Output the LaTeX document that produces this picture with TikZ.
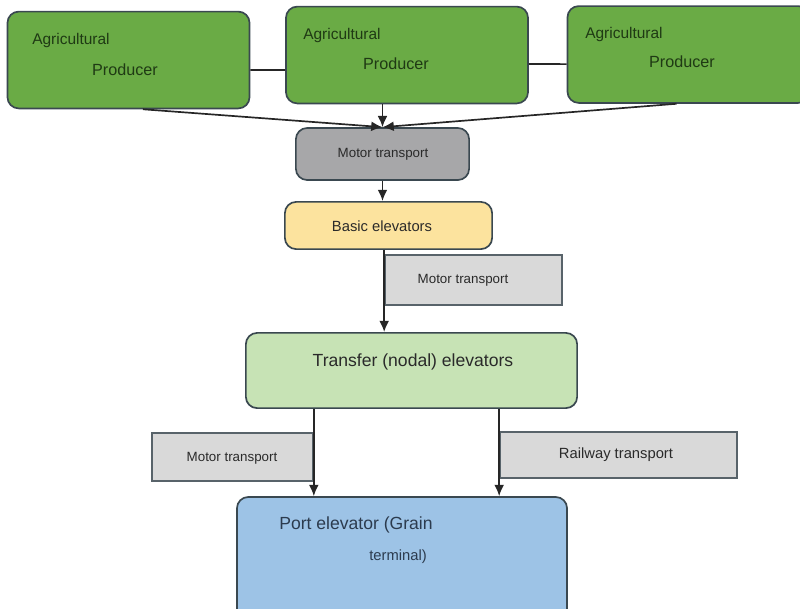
\documentclass[tikz,border=0pt]{standalone}
\usepackage{fontspec}
\setmainfont{Liberation Sans}
\usetikzlibrary{arrows.meta}
\definecolor{prodgreen}{HTML}{6AAB45}
\definecolor{motorgray}{HTML}{A7A7A9}
\definecolor{basicyellow}{HTML}{FCE39E}
\definecolor{lightgray}{HTML}{D9D9D9}
\definecolor{nodalgreen}{HTML}{C7E3B5}
\definecolor{portblue}{HTML}{9DC3E6}
\definecolor{edgedark}{HTML}{3A4850}
\definecolor{txtdark}{HTML}{2A2A2A}
\definecolor{txtgreen}{HTML}{1F3A14}
\definecolor{txtnavy}{HTML}{2C3B4E}
\begin{document}
\begin{tikzpicture}[x=0.025cm, y=-0.025cm,
	rbox/.style={draw=edgedark, line width=1.2pt, rounded corners=8pt, inner sep=0pt},
	sbox/.style={draw=edgedark!85, line width=1pt, inner sep=0pt, fill=lightgray},
	producer/.style={rbox, fill=prodgreen, minimum width=6.05cm, minimum height=2.42cm},
	txt/.style={text=txtdark, inner sep=0pt},
	flow/.style={-{Latex[length=8pt, width=7pt]}, line width=1.2pt, draw=black!85}]
	\useasboundingbox (0,0) rectangle (800,608);
	\node[producer] (P1) at (128.5, 60) {};
	\node[producer] (P2) at (407, 55) {};
	\node[producer] (P3) at (688.5, 54.5) {};
	\foreach \p/\ax/\ay/\bx/\by in {1/71/40/125/70, 2/342/35/396/64, 3/624/34/682/62} {
		\node[txt, text=txtgreen, font=\fontsize{11}{13}\selectfont] (agr\p) at (\ax, \ay) {Agricultural};
		\node[txt, text=txtgreen, font=\fontsize{11.5}{14}\selectfont] (prd\p) at (\bx, \by) {Producer};
	}
	\node[rbox, fill=motorgray, minimum width=4.33cm, minimum height=1.3cm] (MT1) at (382.5, 154) {};
	\node[txt, font=\fontsize{9.5}{12}\selectfont] (mtxt1) at (383, 154) {Motor transport};
	\node[rbox, fill=basicyellow, minimum width=5.18cm, minimum height=1.18cm] (Basic) at (388.5, 225.5) {};
	\node[txt, font=\fontsize{10.5}{12}\selectfont] (btxt) at (382, 226) {Basic elevators};
	\node[sbox, minimum width=4.43cm, minimum height=1.25cm] (MT2) at (473.5, 280) {};
	\node[txt, font=\fontsize{9.5}{12}\selectfont] (mtxt2) at (463, 280) {Motor transport};
	\node[rbox, fill=nodalgreen, minimum width=8.28cm, minimum height=1.88cm] (Transfer) at (411.5, 370.5) {};
	\node[txt, font=\fontsize{12.5}{15}\selectfont] (ttxt) at (413, 362) {Transfer (nodal) elevators};
	\node[sbox, minimum width=4.03cm, minimum height=1.2cm] (MT3) at (232.5, 457) {};
	\node[txt, font=\fontsize{9.5}{12}\selectfont] (mtxt3) at (232, 458) {Motor transport};
	\node[sbox, minimum width=5.93cm, minimum height=1.15cm] (Rail) at (618.5, 455) {};
	\node[txt, font=\fontsize{10.5}{12}\selectfont] (rtxt) at (616, 455) {Railway transport};
	\node[rbox, fill=portblue, minimum width=8.25cm, minimum height=3.1cm] (Port) at (402, 559) {};
	\node[txt, text=txtnavy, font=\fontsize{12.5}{15}\selectfont] (ptxt1) at (356, 525) {Port elevator (Grain};
	\node[txt, text=txtnavy, font=\fontsize{10.5}{12}\selectfont] (ptxt2) at (398, 557) {terminal)};
	\draw[line width=1.2pt, draw=black!85] ([yshift=-0.25cm]P1.east) -- ([yshift=-0.375cm]P2.west);
	\draw[line width=1.2pt, draw=black!85] ([yshift=-0.225cm]P2.east) -- ([yshift=-0.24cm]P3.west);
	\draw[flow] ([xshift=0.36cm]P1.south) -- (MT1.north);
	\draw[flow] (MT1.north |- P2.south) -- (MT1.north);
	\draw[flow] ([xshift=-0.3cm]P3.south) -- (MT1.north);
	\draw[flow] (MT1.south) -- (MT1.south |- Basic.north);
	\draw[flow] (MT2.west |- Basic.south) -- (MT2.west |- Transfer.north);
	\draw[flow] (MT3.east |- Transfer.south) -- (MT3.east |- Port.north);
	\draw[flow] (Rail.west |- Transfer.south) -- (Rail.west |- Port.north);
\end{tikzpicture}
\end{document}
